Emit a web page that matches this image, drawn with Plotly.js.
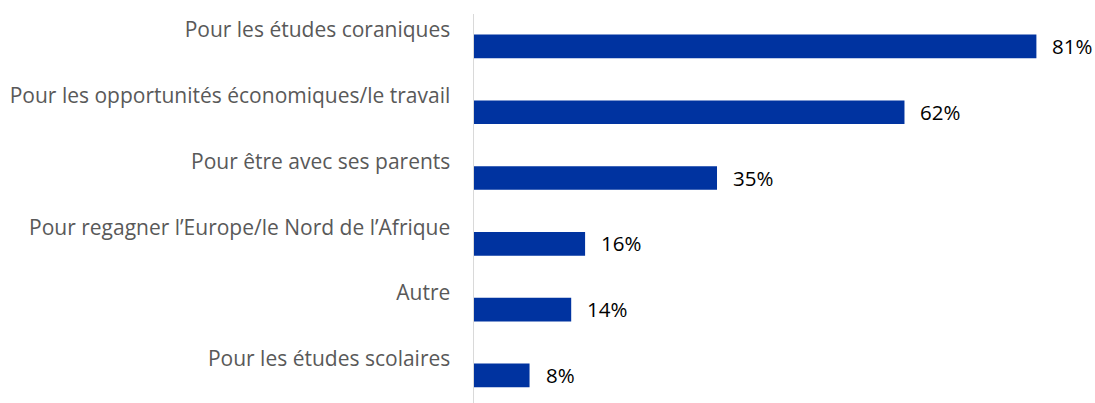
<!DOCTYPE html>
<html>
<head>
<meta charset="utf-8">
<script src="https://cdn.plot.ly/plotly-3.0.1.min.js"></script>
<style>
  html, body { margin: 0; padding: 0; background: #fff; }
  #chart { width: 1095px; height: 403px; }
</style>
</head>
<body>
<div id="chart"></div>
<script>
var reasons = [
    "Pour les études coraniques",
    "Pour les opportunités économiques/le travail",
    "Pour être avec ses parents",
    "Pour regagner l\u2019Europe/le Nord de l\u2019Afrique",
    "Autre",
    "Pour les études scolaires"
];
var shares = [81, 62, 35, 16, 14, 8];

var barColor = "#0033A0";
var fontFam = "'Open Sans', 'Liberation Sans', sans-serif";

var trace = {
    type: "bar",
    orientation: "h",
    x: shares,
    y: reasons,
    width: 0.36,
    offset: 0.07,
    marker: { color: barColor },
    hoverinfo: "none"
};

// value labels sit right of each bar, pushed down to the bar centre
var notes = [];
for (var i = 0; i < reasons.length; i++) {
    notes.push({
        x: shares[i],
        y: reasons[i],
        xref: "x",
        yref: "y",
        text: shares[i] + "%",
        showarrow: false,
        xanchor: "left",
        yanchor: "middle",
        xshift: 14,
        yshift: -16,
        font: { family: fontFam, size: 20.5, color: "#000000" }
    });
}

var layout = {
    width: 1095,
    height: 403,
    margin: { l: 474, r: 10, t: 14, b: 0 },
    paper_bgcolor: "#ffffff",
    plot_bgcolor: "#ffffff",
    showlegend: false,
    xaxis: {
        range: [0, 88],
        showgrid: false,
        zeroline: false,
        showticklabels: false,
        showline: false
    },
    yaxis: {
        type: "category",
        range: [5.67, -0.243],
        showgrid: false,
        zeroline: false,
        showline: true,
        linecolor: "#d9d9d9",
        linewidth: 1.5,
        ticks: "",
        ticklabelstandoff: 18,
        tickfont: { family: fontFam, size: 21, color: "#595959" }
    },
    annotations: notes
};

Plotly.newPlot("chart", [trace], layout, { displayModeBar: false, staticPlot: true });
</script>
</body>
</html>
